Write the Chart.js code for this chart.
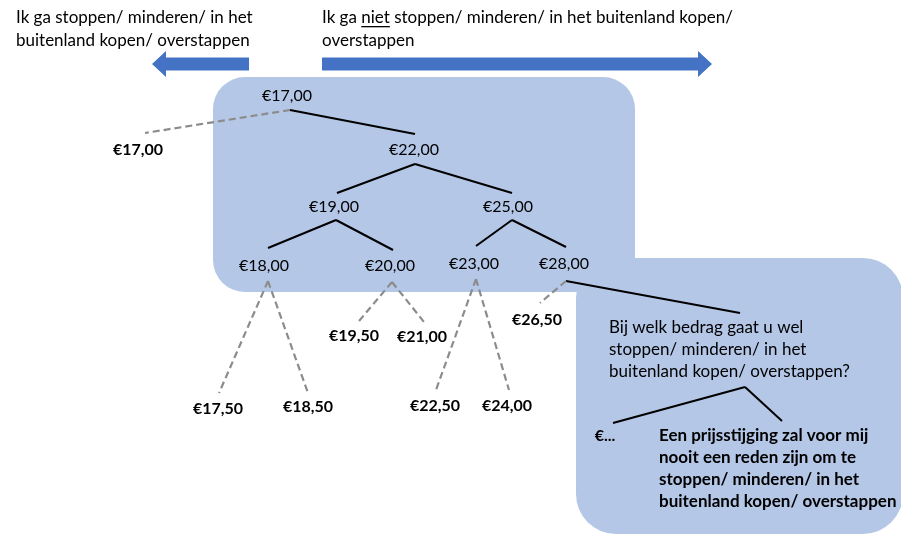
<!DOCTYPE html>
<html>
<head>
<meta charset="utf-8">
<script src="https://cdn.jsdelivr.net/npm/chart.js@4"></script>
<style>
html,body{margin:0;padding:0;background:#fff;}
canvas{display:block;}
</style>
</head>
<body>
<canvas id="c" width="901" height="535"></canvas>
<script>
// ---- data ----
const treeNodes = ['€17,00','€22,00','€19,00','€25,00','€18,00','€20,00','€23,00','€28,00'];
const treeParents = [null,'€17,00','€22,00','€22,00','€19,00','€19,00','€25,00','€25,00'];
const leafLabels = ['€17,00','€17,50','€18,50','€19,50','€21,00','€22,50','€24,00','€26,50'];
const leafParents = ['€17,00','€18,00','€18,00','€20,00','€20,00','€23,00','€23,00','€28,00'];
const questionLines = ['Bij welk bedrag gaat u wel','stoppen/ minderen/ in het','buitenland kopen/ overstappen?'];
const answerLeft = '€...';
const answerRightLines = ['Een prijsstijging zal voor mij','nooit een reden zijn om te','stoppen/ minderen/ in het','buitenland kopen/ overstappen'];
const headerLeft = ['Ik ga stoppen/ minderen/ in het','buitenland kopen/ overstappen'];
const headerRight = [['Ik ga ','niet',' stoppen/ minderen/ in het buitenland kopen/'],['overstappen']];

// ---- layout (positions only) ----
const nodeLayout = {
  '€17,00': {t:[287,96],  top:null,      bot:[290,110]},
  '€22,00': {t:[414,150], top:[415,134], bot:[415,164]},
  '€19,00': {t:[334,207], top:[337,193], bot:[336,220]},
  '€25,00': {t:[508,207], top:[512,193], bot:[512,220]},
  '€18,00': {t:[264,266], top:[268,248], bot:[268,281]},
  '€20,00': {t:[390,266], top:[393,250], bot:[392,282]},
  '€23,00': {t:[474,264], top:[476,246], bot:[476,279]},
  '€28,00': {t:[564,264], top:[566,247], bot:[566,281]}
};
const leafLayout = [
  {t:[138,150], end:[145,133]},
  {t:[218,409], end:[219,393]},
  {t:[308,407], end:[308,393]},
  {t:[354,336], end:[359,321]},
  {t:[422,337], end:[424,322]},
  {t:[435,406], end:[436,390]},
  {t:[507,406], end:[509,390]},
  {t:[537,320], end:[540,303]}
];
const qLayout = {top:[740,313], bot:[745,387], x:609, y0:328, dy:22};
const ansLayout = {leftT:[605,436], leftEnd:[613,423], rightEnd:[782,421], x:659, y0:436, dy:22};
const boxes = [
  {x0:213,y0:77,x1:635,y1:292,r:32},
  {x0:576,y0:258,x1:903,y1:534,r:40}
];
const arrows = [
  {tail:249, head:152, y:64},
  {tail:322, head:712, y:64}
];

const BLUE_BOX = '#B4C7E7', BLUE_ARROW = '#4472C4', GRAY = '#8C8C8C';
const FONT = 'Lato, "Open Sans", sans-serif';

// ---- datasets (edges) ----
const datasets = [];
function seg(a,b,dashed){
  datasets.push({
    data:[{x:a[0],y:a[1]},{x:b[0],y:b[1]}],
    showLine:true, pointRadius:0, borderWidth: dashed ? 2.2 : 2,
    borderColor: dashed ? GRAY : '#000',
    borderDash: dashed ? [7,4] : [],
    fill:false
  });
}
treeNodes.forEach((n,i)=>{
  const p = treeParents[i];
  if(p) seg(nodeLayout[p].bot, nodeLayout[n].top, false);
});
leafLabels.forEach((l,i)=>{
  seg(nodeLayout[leafParents[i]].bot, leafLayout[i].end, true);
});
seg(nodeLayout['€28,00'].bot, qLayout.top, false);
seg(qLayout.bot, ansLayout.leftEnd, false);
seg(qLayout.bot, ansLayout.rightEnd, false);

// ---- plugins ----
const backdrop = {
  id:'backdrop',
  beforeDatasetsDraw(chart){
    const {ctx, scales:{x,y}} = chart;
    ctx.save();
    ctx.fillStyle = BLUE_BOX;
    boxes.forEach(b=>{
      const X0=x.getPixelForValue(b.x0), X1=x.getPixelForValue(b.x1);
      const Y0=y.getPixelForValue(b.y0), Y1=y.getPixelForValue(b.y1);
      ctx.beginPath();
      ctx.roundRect(X0,Y0,X1-X0,Y1-Y0,b.r);
      ctx.fill();
    });
    ctx.fillStyle = BLUE_ARROW;
    arrows.forEach(a=>{
      const dir = Math.sign(a.head - a.tail);
      const T=x.getPixelForValue(a.tail), Hh=x.getPixelForValue(a.head);
      const base = Hh - dir*14;
      const Y=y.getPixelForValue(a.y);
      ctx.beginPath();
      ctx.moveTo(T, Y-6.5);
      ctx.lineTo(base, Y-6.5);
      ctx.lineTo(base, Y-13);
      ctx.lineTo(Hh, Y);
      ctx.lineTo(base, Y+13);
      ctx.lineTo(base, Y+6.5);
      ctx.lineTo(T, Y+6.5);
      ctx.closePath();
      ctx.fill();
    });
    ctx.restore();
  }
};

const labels = {
  id:'labels',
  afterDatasetsDraw(chart){
    const {ctx, scales:{x,y}} = chart;
    const P = (p)=>[x.getPixelForValue(p[0]), y.getPixelForValue(p[1])];
    ctx.save();
    ctx.fillStyle = '#000';
    ctx.textBaseline = 'middle';
    // tree nodes
    ctx.font = '16px ' + FONT;
    ctx.textAlign = 'center';
    treeNodes.forEach(n=>{
      const [px,py] = P(nodeLayout[n].t);
      ctx.fillText(n, px, py);
    });
    // leaves
    ctx.font = 'bold 16px ' + FONT;
    leafLabels.forEach((l,i)=>{
      const [px,py] = P(leafLayout[i].t);
      ctx.fillText(l, px, py);
    });
    // answer left
    {
      const [px,py] = P(ansLayout.leftT);
      ctx.fillText(answerLeft, px, py);
    }
    // answer right
    ctx.font = 'bold 17px ' + FONT;
    ctx.textAlign = 'left';
    answerRightLines.forEach((s,i)=>{
      const [px,py] = P([ansLayout.x, ansLayout.y0 + i*ansLayout.dy]);
      ctx.fillText(s, px, py);
    });
    // question
    ctx.font = '17px ' + FONT;
    questionLines.forEach((s,i)=>{
      const [px,py] = P([qLayout.x, qLayout.y0 + i*qLayout.dy]);
      ctx.fillText(s, px, py);
    });
    // headers
    ctx.font = '17px ' + FONT;
    headerLeft.forEach((s,i)=>{
      const [px,py] = P([16, 18 + i*23]);
      ctx.fillText(s, px, py);
    });
    headerRight.forEach((parts,i)=>{
      let [px,py] = P([322, 18 + i*23]);
      parts.forEach((s,j)=>{
        ctx.fillText(s, px, py);
        const w = ctx.measureText(s).width;
        if(s==='niet'){
          ctx.fillRect(px, py+8, w, 1.3);
        }
        px += w;
      });
    });
    ctx.restore();
  }
};

new Chart(document.getElementById('c'), {
  type:'scatter',
  data:{datasets},
  options:{
    responsive:false,
    animation:false,
    layout:{padding:0},
    plugins:{legend:{display:false}, tooltip:{enabled:false}},
    scales:{
      x:{type:'linear', min:0, max:901, display:false},
      y:{type:'linear', min:0, max:535, reverse:true, display:false}
    }
  },
  plugins:[backdrop, labels]
});
</script>
</body>
</html>
